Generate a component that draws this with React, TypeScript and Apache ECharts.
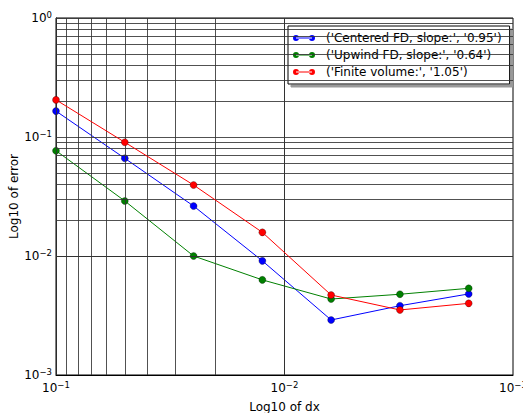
import React, { useEffect, useRef } from "react";
import * as echarts from "echarts";

// Grid spacing (dx) and the measured error for each scheme
const dx = [0.1, 0.05, 0.025, 0.0125, 0.00625, 0.003125, 0.0015625];
const centeredFD = [0.165, 0.0662, 0.0263, 0.0091, 0.0029, 0.00382, 0.0048];
const upwindFD = [0.0767, 0.029, 0.01, 0.0063, 0.00435, 0.00477, 0.00535];
const finiteVolume = [0.205, 0.0903, 0.0395, 0.0158, 0.0047, 0.00352, 0.004];

const seriesNames = [
  "('Centered FD, slope:', '0.95')",
  "('Upwind FD, slope:', '0.64')",
  "('Finite volume:', '1.05')",
];
const seriesColors = ["#0000ff", "#008000", "#ff0000"];

// Decades shown on each axis
const xDecades = [0.001, 0.01, 0.1];
const yDecades = [0.001, 0.01, 0.1, 1];
const minorSteps = [2, 3, 4, 5, 6, 7, 8, 9];

const gridValues = (decades: number[]) => {
  const out: number[] = [...decades];
  decades.slice(0, -1).forEach((d) => minorSteps.forEach((m) => out.push(d * m)));
  return out;
};

const FONT = "DejaVu Sans";

const powLabel = (v: number) => {
  const e = Math.round(Math.log10(v));
  const s = e < 0 ? "\u2212" + Math.abs(e) : String(e);
  return `{b|10}{s|${s}}`;
};

const richPow = {
  b: { fontSize: 12, fontFamily: FONT, color: "#000", lineHeight: 16 },
  s: { fontSize: 8.5, fontFamily: FONT, color: "#000", lineHeight: 9, verticalAlign: "top" },
};

// marker - line - marker glyph; the lone move-to at x=28 leaves room before the text
const legendIcon =
  "path://M28,5M0,5a3,3 0 1,0 6,0a3,3 0 1,0 -6,0M16,5a3,3 0 1,0 6,0a3,3 0 1,0 -6,0M3,4.5h16v1h-16z";

export default function App() {
  const ref = useRef<HTMLDivElement>(null);

  useEffect(() => {
    if (!ref.current) return;
    const chart = echarts.init(ref.current, undefined, { renderer: "svg" });

    const toPairs = (vals: number[]) => dx.map((x, i) => [x, vals[i]]);
    const dataSets = [centeredFD, upwindFD, finiteVolume];

    chart.setOption({
      animation: false,
      backgroundColor: "#fff",
      grid: {
        left: 56,
        top: 18,
        width: 457,
        height: 357,
        show: true,
        borderColor: "#000",
        borderWidth: 1,
        backgroundColor: "transparent",
        containLabel: false,
        outerBoundsMode: "none",
      },
      legend: {
        orient: "vertical",
        left: 288,
        top: 26,
        data: seriesNames.map((n) => ({ name: n, icon: legendIcon })),
        itemWidth: 28,
        itemHeight: 6,
        itemGap: 5,
        padding: [6, 8, 6, 5],
        backgroundColor: "#fff",
        borderColor: "#000",
        borderWidth: 1,
        shadowColor: "#999",
        shadowOffsetX: 3,
        shadowOffsetY: 3,
        shadowBlur: 0,
        selectedMode: false,
        itemStyle: { borderWidth: 0 },
        textStyle: {
          fontFamily: FONT,
          fontSize: 12,
          color: "#000",
        },
      },
      xAxis: {
        type: "log",
        logBase: 10,
        min: 0.001,
        max: 0.1,
        inverse: true,
        name: "Log10 of dx",
        nameLocation: "middle",
        nameGap: 26,
        nameTextStyle: { fontFamily: FONT, fontSize: 12, color: "#000" },
        axisLine: { show: true, lineStyle: { color: "#000", width: 1 } },
        axisTick: { show: false },
        splitLine: { show: false },
        axisLabel: {
          customValues: xDecades,
          formatter: powLabel,
          rich: richPow,
          margin: 5,
        },
      },
      yAxis: {
        type: "log",
        logBase: 10,
        min: 0.001,
        max: 1,
        name: "Log10 of error",
        nameLocation: "middle",
        nameGap: 36,
        nameMoveOverlap: false,
        nameRotate: 90,
        nameTextStyle: { fontFamily: FONT, fontSize: 12, color: "#000" },
        axisLine: { show: true, lineStyle: { color: "#000", width: 1 } },
        axisTick: { show: false },
        splitLine: { show: false },
        axisLabel: {
          customValues: yDecades,
          formatter: powLabel,
          rich: richPow,
          margin: 4,
        },
      },
      series: [
        {
          type: "line",
          name: "grid",
          data: [],
          silent: true,
          z: 1,
          markLine: {
            silent: true,
            symbol: "none",
            animation: false,
            label: { show: false },
            emphasis: { disabled: true },
            lineStyle: { color: "#333", width: 1, type: "solid", opacity: 0.85 },
            data: [
              ...gridValues(xDecades).map((v) => ({ xAxis: v })),
              ...gridValues(yDecades).map((v) => ({ yAxis: v })),
            ],
          },
        },
        ...seriesNames.map((name, i) => ({
          type: "line",
          name,
          data: toPairs(dataSets[i]),
          z: 3 + i,
          symbol: "circle",
          symbolSize: 7,
          showAllSymbol: true,
          lineStyle: { color: seriesColors[i], width: 1 },
          itemStyle: {
            color: seriesColors[i],
            borderColor: "rgba(0,0,0,0.5)",
            borderWidth: 0.6,
          },
          emphasis: { disabled: true },
        })),
      ],
    });

    return () => chart.dispose();
  }, []);

  return (
    <div
      ref={ref}
      style={{ position: "fixed", left: 0, top: 0, width: 523, height: 413 }}
    />
  );
}
